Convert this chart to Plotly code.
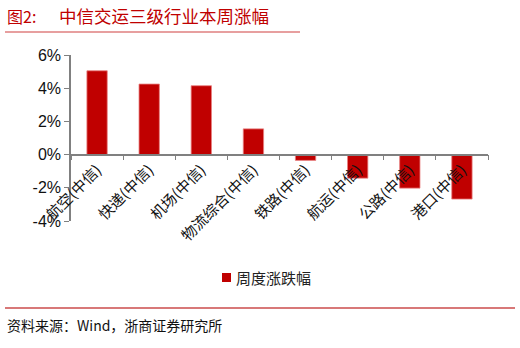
import plotly.graph_objects as go

categories = ["航空(中信)", "快递(中信)", "机场(中信)", "物流综合(中信)", "铁路(中信)", "航运(中信)", "公路(中信)", "港口(中信)"]
values = [5.05, 4.25, 4.15, 1.55, -0.35, -1.42, -2.02, -2.68]
series_name = "周度涨跌幅"
y_ticks = [-4, -2, 0, 2, 4, 6]

W, H = 520, 348
L, R, T, B = 71, 32, 55, 127
PW, PH = W - L - R, H - T - B

def px(x):
    return (x - L) / PW

def py(y):
    return (H - B - y) / PH

RED = "#C00000"
CJK = "Noto Sans CJK SC"

fig = go.Figure()
fig.add_trace(go.Bar(
    x=categories, y=values, name=series_name,
    marker=dict(color=RED, line=dict(color="#E88080", width=0.8)),
    width=0.39, showlegend=False,
))

fig.update_layout(
    width=W, height=H,
    margin=dict(l=L, r=R, t=T, b=B),
    paper_bgcolor="white", plot_bgcolor="white",
    xaxis=dict(
        anchor="free", position=0.4,
        showline=True, linecolor="#808080", linewidth=1.5,
        ticks="outside", tickson="boundaries", ticklen=5, tickcolor="#808080",
        tickangle=-45, tickfont=dict(family=CJK, size=15, color="#111"),
        showgrid=False, zeroline=False,
    ),
    yaxis=dict(
        range=[-4, 6], tickvals=y_ticks, ticktext=[f"{v}%" for v in y_ticks],
        showline=True, linecolor="#808080", linewidth=1.5,
        ticks="outside", ticklen=5, tickcolor="#808080",
        tickfont=dict(family="Liberation Sans, Arial", size=16, color="#111"),
        showgrid=False, zeroline=False,
    ),
    bargap=0.6,
)

# legend (manual)
fig.add_shape(type="rect", xref="paper", yref="paper", x0=px(222), x1=px(231), y0=py(273), y1=py(282),
              fillcolor=RED, line=dict(width=0))
fig.add_annotation(x=px(234), y=py(277), xref="paper", yref="paper", xanchor="left", yanchor="middle",
                   text=series_name, showarrow=False, font=dict(family=CJK, size=15, color="#222"))

fig.add_annotation(x=px(5), y=py(16), xref="paper", yref="paper", xanchor="left", yanchor="middle",
                   text="图2:", showarrow=False, font=dict(family=CJK, size=16, color=RED))
fig.add_annotation(x=px(57), y=py(16), xref="paper", yref="paper", xanchor="left", yanchor="middle",
                   text="中信交运三级行业本周涨幅", showarrow=False, font=dict(family=CJK, size=17.5, color=RED))
fig.add_shape(type="line", xref="paper", yref="paper", x0=px(5), x1=px(300), y0=py(32), y1=py(32),
              line=dict(color="#D04040", width=1.2))
fig.add_shape(type="line", xref="paper", yref="paper", x0=px(5), x1=px(515), y0=py(308), y1=py(308),
              line=dict(color="#D87878", width=2))
fig.add_annotation(x=px(5), y=py(325), xref="paper", yref="paper", xanchor="left", yanchor="middle",
                   text="资料来源：Wind，浙商证券研究所", showarrow=False,
                   font=dict(family=CJK, size=14, color="#111"))

fig.write_html("out.html")
